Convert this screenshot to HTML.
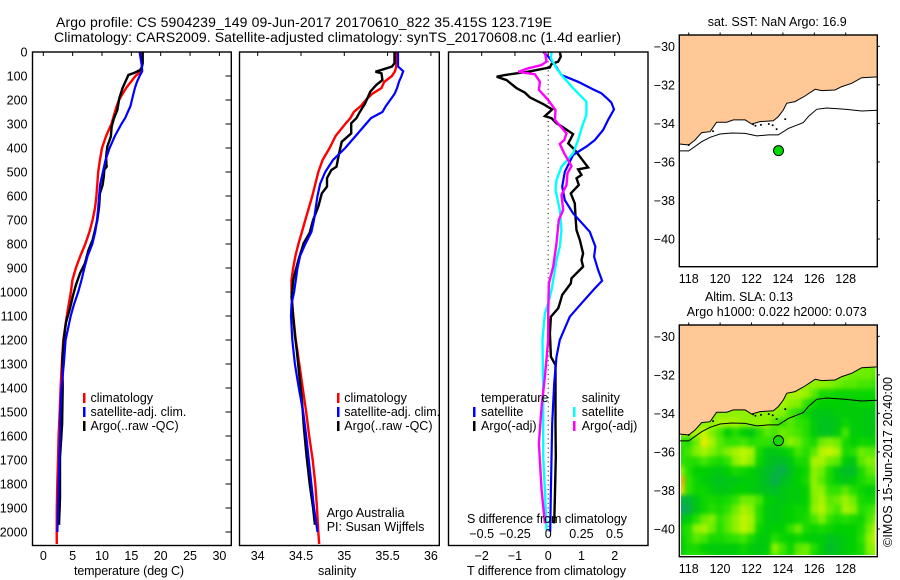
<!DOCTYPE html>
<html lang="en">
<head>
<meta charset="utf-8">
<title>Argo profile 5904239</title>
<style>
html,body{margin:0;padding:0;background:#fff;}
body{width:900px;height:580px;overflow:hidden;}
svg{display:block;}
text{font-family:"Liberation Sans",Arial,sans-serif;font-size:12.5px;fill:#000;}
.ttl{font-size:14px;}
</style>
</head>
<body>
<svg id="figure" xmlns="http://www.w3.org/2000/svg" width="900" height="580" viewBox="0 0 900 580">
  <rect x="0" y="0" width="900" height="580" fill="#fff"/>
  <text class="ttl" x="56" y="27" textLength="496">Argo profile: CS 5904239_149 09-Jun-2017 20170610_822 35.415S 123.719E</text>
  <text class="ttl" x="54" y="42" textLength="567">Climatology: CARS2009. Satellite-adjusted climatology: synTS_20170608.nc (1.4d earlier)</text>

  <g id="panel-t"></g>
  <g id="panel-s"></g>
  <g id="panel-d"></g>
  <g id="panel-m1"></g>
  <g id="panel-m2"></g>

  <g>
    <rect x="83" y="393" width="2.5" height="10" fill="#f00"/>
    <rect x="83" y="407" width="2.5" height="10" fill="#00f"/>
    <rect x="83" y="421" width="2.5" height="10" fill="#000"/>
    <text x="90.5" y="402">climatology</text>
    <text x="90.5" y="416">satellite-adj. clim.</text>
    <text x="90.5" y="430">Argo(..raw -QC)</text>
  </g>
  <g>
    <rect x="337" y="393" width="2.5" height="10" fill="#f00"/>
    <rect x="337" y="407" width="2.5" height="10" fill="#00f"/>
    <rect x="337" y="421" width="2.5" height="10" fill="#000"/>
    <text x="344.3" y="402">climatology</text>
    <text x="344.3" y="416">satellite-adj. clim.</text>
    <text x="344.3" y="430">Argo(..raw -QC)</text>
  </g>
  <text x="326.7" y="517">Argo Australia</text>
  <text x="326.7" y="531">PI: Susan Wijffels</text>

  <g>
    <text x="481" y="402">temperature</text>
    <rect x="473" y="407" width="2.5" height="10" fill="#00f"/>
    <rect x="473" y="421" width="2.5" height="10" fill="#000"/>
    <text x="481" y="416">satellite</text>
    <text x="481" y="430">Argo(-adj)</text>
    <text x="581.7" y="402">salinity</text>
    <rect x="573" y="407" width="2.5" height="10" fill="#0ff"/>
    <rect x="573" y="421" width="2.5" height="10" fill="#f0f"/>
    <text x="581.7" y="416">satellite</text>
    <text x="581.7" y="430">Argo(-adj)</text>
  </g>

  <text x="74" y="575" textLength="110">temperature (deg C)</text>
  <text x="318" y="575">salinity</text>
  <text x="467" y="523" textLength="160">S difference from climatology</text>
  <text x="467" y="575" textLength="159">T difference from climatology</text>

  <text x="707.7" y="26" textLength="139">sat. SST: NaN Argo: 16.9</text>
  <text x="705" y="301" textLength="88">Altim. SLA: 0.13</text>
  <text x="686.7" y="316" textLength="180">Argo h1000: 0.022 h2000: 0.073</text>
  <text transform="translate(892,547) rotate(-90)" x="0" y="0" textLength="170">©IMOS 15-Jun-2017 20:40:00</text>
</svg>

<script>
/* ---------- tick labels ---------- */
const depthTicks = [0,100,200,300,400,500,600,700,800,900,1000,1100,1200,1300,1400,1500,1600,1700,1800,1900,2000];
const tempTicks = [0,5,10,15,20,25,30];
const salTicks = [34,34.5,35,35.5,36];
const diffTTicks = [-2,-1,0,1,2];
const diffSTicks = [-0.5,-0.25,0,0.25,0.5];
const lonTicks = [118,120,122,124,126,128];
const latTicks = [-30,-32,-34,-36,-38,-40];

/* ---------- climatology depth levels (dbar) ---------- */
const climDepths = [0,60,80,100,125,150,175,200,225,250,275,300,350,400,450,500,550,600,650,700,750,800,850,900,950,1000,1050,1100,1200,1300,1400,1500,1600,1700,1800,1900,2000,2050];

/* ---------- temperature (deg C) ---------- */
const tempClim = [16.8,16.8,16.7,15.7,14.9,14.1,13.5,12.9,12.5,12.2,11.9,11.6,10.7,10.0,9.65,9.35,9.2,9.05,8.8,8.4,7.85,7.15,6.3,5.55,4.95,4.7,4.35,4.0,3.4,3.15,2.95,2.8,2.6,2.5,2.38,2.3,2.28,2.3];
const tempSat = [16.4,16.8,16.85,16.4,15.95,15.6,15.35,15.1,14.85,14.4,13.95,13.3,12.2,11.3,10.6,10.15,9.7,9.5,9.35,9.15,8.85,8.35,7.55,7.0,6.5,5.95,5.25,4.66,3.8,3.5,3.1,2.9,2.85,2.73,2.6,2.48,2.4];
const tempArgoDepths = [0,47,62,75,86,96,117,151,193,242,276,311,353,394,436,465,478,490,519,554,589,644,700,742,783,825,880,922,971,1019,1068,1128,1200,1280,1400,1550,1690,1860,1970];
const tempArgo = [16.93,16.93,16.8,16.5,15.6,14.5,14.1,13.5,12.95,12.6,12.05,11.65,11.5,10.9,10.7,10.75,10.8,10.4,10.3,10.1,9.65,9.5,9.2,8.8,8.4,7.7,7.1,6.25,5.55,5.0,4.55,3.85,3.5,3.25,3.3,3.2,2.85,2.85,2.67];

/* ---------- salinity ---------- */
const salClim = [35.6,35.6,35.585,35.55,35.46,35.43,35.32,35.25,35.19,35.11,35.07,35.01,34.9,34.83,34.75,34.7,34.665,34.63,34.59,34.55,34.51,34.47,34.435,34.41,34.39,34.39,34.4,34.41,34.44,34.48,34.52,34.56,34.595,34.635,34.665,34.685,34.7,34.71];
const salSat = [35.62,35.62,35.68,35.66,35.63,35.61,35.58,35.53,35.48,35.44,35.31,35.25,35.13,35.01,34.87,34.78,34.72,34.69,34.67,34.65,34.62,34.55,34.49,34.46,34.44,34.42,34.39,34.385,34.4,34.43,34.475,34.525,34.56,34.59,34.62,34.65,34.69];
const salArgoDepths = [0,47,61,72,82,89,117,137,165,214,249,276,297,339,374,422,478,492,526,561,589,644,700,753,797,867,950,1019,1100,1180,1240,1310,1450,1570,1685,1800,1900,1970];
const salArgo = [35.58,35.58,35.55,35.45,35.36,35.43,35.44,35.37,35.3,35.24,35.18,35.14,35.08,35.08,34.97,34.94,34.91,34.85,34.8,34.8,34.74,34.7,34.64,34.6,34.53,34.47,34.41,34.39,34.41,34.43,34.45,34.47,34.51,34.535,34.565,34.6,34.64,34.66];

/* ---------- differences from climatology ---------- */
const diffTSatDepths = [0,19,54,96,124,156,172,197,211,239,283,325,367,394,429,499,561,617,672,749,811,853,908,953,985,1047,1103,1200,1270,1381,1547,1825,1999];
const diffTSat = [-0.15,0,0.2,0.4,0.9,1.35,1.6,1.8,1.9,1.98,1.8,1.65,1.4,1.15,0.75,0.5,0.42,0.5,0.75,1.25,1.42,1.38,1.5,1.62,1.4,1.0,0.65,0.35,0.25,0.18,0.12,0.08,0.06];
const diffTArgoDepths = [0,19,40,50,64,82,96,103,117,151,169,189,217,239,267,276,297,314,342,381,408,481,489,512,526,554,589,631,686,742,783,839,867,894,943,964,1012,1047,1068,1103,1172,1270,1304,1547,1686,1853,1964];
const diffTArgo = [0.35,0.38,0.3,0.1,0.05,-0.6,-1.3,-1.55,-1.25,-0.95,-0.7,-0.55,-0.15,0.12,-0.1,0.1,0.25,0.45,0.75,0.6,0.8,1.2,0.9,1.0,0.85,0.92,0.68,0.8,0.82,0.85,0.95,1.05,1.0,1.05,0.7,0.68,0.42,0.35,0.3,0.08,0.05,0.08,0.22,0.22,0.23,0.2,0.18];
const diffSSatDepths = [0,26,68,96,151,207,262,311,367,422,478,533,575,658,742,811,867,950,992,1047,1089,1200,1408,1686,1825,1992];
const diffSSat = [0.025,0.02,0.0625,0.1,0.1875,0.2875,0.2875,0.255,0.225,0.1875,0.1,0.0625,0.055,0.0875,0.1,0.0875,0.0625,0.0375,0.025,0,-0.025,-0.0425,-0.0375,-0.0375,-0.025,-0.0125];
const diffSArgoDepths = [0,40,54,68,82,93,124,158,200,242,283,339,367,383,422,475,505,554,596,658,700,797,894,964,1089,1200,1353,1478,1631,1825,1964];
const diffSArgo = [-0.025,-0.0125,-0.05,-0.15,-0.225,-0.1,-0.0625,-0.07,0,0.055,0.05,0.1375,0.12,0.0875,0.12,0.175,0.145,0.1375,0.1,0.1125,0.08,0.0625,0.0375,0.005,0,0,-0.025,-0.05,-0.07,-0.05,-0.025];

/* ---------- map geography ---------- */
const coastLon = [117.41,118.0,118.4,118.83,119.36,119.78,120.42,120.85,121.59,122.01,122.54,123.39,123.71,124.03,124.24,124.77,125.41,126.05,126.47,127.32,127.75,128.38,129.02,130.02];
const coastLat = [-35.07,-35.12,-34.86,-34.48,-34.43,-33.94,-33.94,-33.82,-33.82,-34.03,-33.91,-33.86,-33.65,-33.3,-32.96,-32.87,-32.58,-32.23,-32.3,-32.27,-32.09,-31.92,-31.63,-31.59];
const isobathLon = [117.41,118.0,118.83,119.36,120.0,120.74,121.59,122.33,123.07,123.71,124.35,125.3,125.62,126.15,126.79,127.96,129.02,130.02];
const isobathLat = [-35.43,-35.43,-34.95,-34.72,-34.55,-34.5,-34.52,-34.65,-34.6,-34.6,-34.26,-33.96,-33.65,-33.27,-33.2,-33.27,-33.36,-33.32];
const isletLon = [118.0,119.55,122.1,122.25,122.6,123.1,123.35,123.6,124.15];
const isletLat = [-35.12,-34.4,-34.05,-34.12,-34.08,-34.03,-34.1,-34.3,-33.78];
const floatLon = 123.719;
const floatLat = -35.415;

/* ---------- sea level anomaly grid (m) ---------- */
const slaLons = [117.5,118,118.5,119,119.5,120,120.5,121,121.5,122,122.5,123,123.5,124,124.5,125,125.5,126,126.5,127,127.5,128,128.5,129,129.5,130];
const slaLats = [-31.5,-32,-32.5,-33,-33.5,-34,-34.5,-35,-35.5,-36,-36.5,-37,-37.5,-38,-38.5,-39,-39.5,-40,-40.5,-41,-41.5];
const slaRows = [
[.18,.18,.18,.18,.18,.18,.18,.18,.18,.18,.18,.18,.18,.18,.18,.18,.18,.18,.18,.18,.18,.18,.18,.18,.18,.18],
[.2,.2,.2,.2,.2,.2,.2,.2,.2,.2,.2,.2,.2,.2,.2,.2,.2,.2,.2,.2,.2,.19,.18,.18,.18,.17],
[.2,.2,.2,.2,.2,.2,.2,.2,.2,.2,.2,.2,.2,.2,.2,.2,.2,.2,.2,.19,.18,.17,.17,.16,.16,.15],
[.2,.2,.2,.2,.2,.2,.2,.2,.2,.2,.2,.2,.2,.2,.22,.22,.21,.17,.13,.13,.12,.12,.12,.12,.12,.12],
[.2,.2,.2,.2,.2,.2,.2,.2,.2,.2,.2,.2,.2,.22,.2,.19,.15,.12,.11,.11,.11,.1,.1,.11,.11,.11],
[.2,.2,.2,.2,.2,.2,.2,.2,.2,.2,.2,.2,.2,.19,.16,.14,.12,.09,.09,.09,.1,.1,.1,.1,.09,.09],
[.2,.2,.2,.2,.2,.22,.22,.22,.2,.2,.2,.2,.17,.15,.17,.15,.14,.1,.08,.08,.09,.12,.1,.1,.09,.09],
[.2,.2,.22,.24,.19,.16,.11,.14,.11,.09,.14,.17,.16,.18,.17,.16,.14,.1,.08,.08,.1,.16,.1,.1,.09,.1],
[.15,.14,.18,.27,.22,.17,.15,.15,.16,.14,.15,.15,.14,.17,.2,.18,.15,.13,.18,.19,.18,.13,.11,.12,.12,.11],
[.14,.16,.19,.22,.19,.17,.19,.22,.24,.22,.13,.09,.09,.1,.12,.16,.14,.17,.23,.25,.22,.13,.14,.18,.17,.17],
[.15,.14,.14,.16,.14,.13,.15,.2,.23,.2,.12,.09,.07,.07,.09,.13,.13,.22,.22,.18,.17,.1,.09,.17,.19,.19],
[.2,.14,.11,.11,.1,.09,.11,.13,.12,.11,.09,.07,.06,.05,.08,.11,.12,.2,.18,.13,.09,.07,.07,.13,.17,.18],
[.33,.15,.12,.1,.09,.08,.09,.09,.1,.1,.09,.07,.05,.07,.09,.11,.13,.2,.17,.13,.1,.09,.1,.13,.15,.15],
[.3,.15,.12,.12,.1,.09,.09,.11,.11,.1,.09,.08,.07,.09,.1,.1,.11,.2,.2,.15,.15,.17,.14,.12,.1,.11],
[.06,.06,.09,.12,.13,.12,.13,.15,.18,.18,.16,.11,.1,.09,.1,.1,.11,.19,.22,.17,.18,.21,.18,.13,.12,.13],
[.04,.05,.09,.12,.14,.13,.15,.18,.22,.2,.14,.1,.09,.1,.11,.12,.12,.2,.23,.18,.16,.22,.2,.14,.15,.17],
[.08,.1,.14,.18,.19,.15,.17,.2,.24,.22,.14,.1,.09,.1,.11,.12,.13,.16,.19,.15,.13,.14,.13,.12,.16,.2],
[.12,.14,.2,.22,.18,.14,.17,.2,.24,.21,.12,.1,.11,.11,.15,.18,.13,.12,.13,.12,.11,.11,.11,.13,.18,.25],
[.1,.14,.17,.16,.13,.13,.14,.15,.16,.13,.1,.1,.14,.12,.11,.12,.11,.1,.1,.08,.09,.1,.11,.14,.2,.25],
[.1,.13,.13,.11,.1,.1,.1,.1,.12,.1,.09,.1,.2,.16,.12,.17,.18,.14,.1,.07,.08,.1,.11,.13,.19,.22],
[.12,.14,.14,.14,.12,.1,.1,.11,.12,.11,.1,.12,.17,.15,.13,.18,.18,.13,.1,.08,.09,.11,.12,.13,.18,.2]
];
const floatSla = 0.13;

/* ---------- colour ramp for the anomaly field ---------- */
const rampLevels = [0.03,0.07,0.11,0.15,0.19,0.24,0.28,0.33];
const rampColours = [[16,160,112],[0,190,40],[0,208,0],[48,226,0],[130,240,0],[190,245,0],[240,235,0],[255,170,20]];
function slaColour(v){
  if(v<=rampLevels[0]) return 'rgb('+rampColours[0].join(',')+')';
  for(let i=1;i<rampLevels.length;i++){
    if(v<=rampLevels[i]){
      const f=(v-rampLevels[i-1])/(rampLevels[i]-rampLevels[i-1]);
      const a=rampColours[i-1], b=rampColours[i];
      return 'rgb('+[0,1,2].map(k=>Math.round(a[k]+(b[k]-a[k])*f)).join(',')+')';
    }
  }
  return 'rgb('+rampColours[rampColours.length-1].join(',')+')';
}

/* ---------- axis functions ---------- */
const yDepth = d => 52 + d*0.24;
const xTemp = v => 43.3 + v*5.87;
const xSal = v => 257.7 + (v-34)*86.6;
const xDiffT = v => 548.2 + v*33.25;
const xDiffS = v => xDiffT(v*4);
const lonX = lon => 688.7 + (lon-118)*15.7;
const latY1 = lat => 46.3 + (-30-lat)*19.27;
const latY2 = lat => 336.3 + (-30-lat)*19.27;

const NS = 'http://www.w3.org/2000/svg';
function make(tag, attrs, parent, txt){
  const el = document.createElementNS(NS, tag);
  for(const k in attrs) el.setAttribute(k, attrs[k]);
  if(txt !== undefined) el.textContent = txt;
  parent.appendChild(el);
  return el;
}
function tickSegment(x1,y1,x2,y2,parent){
  const el = make('line',{x1:x1,y1:y1,x2:x2,y2:y2,stroke:'#000','stroke-width':1},parent);
  
  
  return el;
}
function tickText(x,y,anchor,str,parent){
  const el = make('text',{x:x,y:y,'text-anchor':anchor},parent,str.replace('-','\u2212'));
  
  
  return el;
}
function profileLine(parent, depths, values, xFn, colour, width, name){
  const pts = values.map((v,i)=>xFn(v).toFixed(1)+','+yDepth(depths[i]).toFixed(1)).join(' ');
  const el = make('polyline',{points:pts,fill:'none',stroke:colour,'stroke-width':width,'stroke-linejoin':'miter','stroke-miterlimit':2},parent);
  
  
  return el;
}
function frame(parent,x,y,w,h){
  const el = make('rect',{x:x,y:y,width:w,height:h,fill:'none',stroke:'#000','stroke-width':1.4},parent);
  
  
  return el;
}

/* ---------- temperature panel ---------- */
const pT = document.getElementById('panel-t');
profileLine(pT, climDepths, tempClim, xTemp, '#f00', 2.4, 'temperature-climatology-line');
profileLine(pT, tempArgoDepths, tempArgo, xTemp, '#000', 2.4, 'temperature-argo-line');
profileLine(pT, climDepths, tempSat, xTemp, '#00f', 2.2, 'temperature-satellite-line');
frame(pT, 32.5, 52, 198.8, 493.5);
depthTicks.forEach(d=>{
  tickSegment(225.5, yDepth(d), 231.3, yDepth(d), pT);
  tickText(27.5, yDepth(d)+4.5, 'end', String(d), pT);
});
tempTicks.forEach(v=>{
  tickSegment(xTemp(v), 52, xTemp(v), 56, pT);
  tickText(xTemp(v), 560, 'middle', String(v), pT);
});

/* ---------- salinity panel ---------- */
const pS = document.getElementById('panel-s');
profileLine(pS, climDepths, salClim, xSal, '#f00', 2.4, 'salinity-climatology-line');
profileLine(pS, salArgoDepths, salArgo, xSal, '#000', 2.4, 'salinity-argo-line');
profileLine(pS, climDepths, salSat, xSal, '#00f', 2.2, 'salinity-satellite-line');
frame(pS, 239.5, 52, 199.8, 493.5);
salTicks.forEach(v=>{
  tickSegment(xSal(v), 52, xSal(v), 56, pS);
  tickText(xSal(v), 560, 'middle', String(v), pS);
});

/* ---------- difference panel ---------- */
const pD = document.getElementById('panel-d');
const zeroLine = make('line',{x1:xDiffT(0),y1:yDepth(0),x2:xDiffT(0),y2:yDepth(2000),stroke:'#000','stroke-width':1,'stroke-dasharray':'1 3.6'},pD);


profileLine(pD, diffTArgoDepths, diffTArgo, xDiffT, '#000', 2.4, 'temperature-difference-argo-line');
profileLine(pD, diffTSatDepths, diffTSat, xDiffT, '#00f', 2.2, 'temperature-difference-satellite-line');
profileLine(pD, diffSSatDepths, diffSSat, xDiffS, '#0ff', 2.4, 'salinity-difference-satellite-line');
profileLine(pD, diffSArgoDepths, diffSArgo, xDiffS, '#f0f', 2.4, 'salinity-difference-argo-line');
frame(pD, 448.5, 52, 199.5, 493.5);
diffTTicks.forEach(v=>{
  tickSegment(xDiffT(v), 52, xDiffT(v), 56, pD);
  tickText(xDiffT(v), 560, 'middle', String(v), pD);
});
diffSTicks.forEach(v=>{
  tickText(xDiffS(v), 538, 'middle', String(v), pD);
});

/* ---------- maps ---------- */
function landPath(latY, top){
  const pts = coastLon.map((lon,i)=>lonX(lon).toFixed(1)+','+latY(coastLat[i]).toFixed(1));
  pts.push('877.3,'+top);
  pts.push('679.3,'+top);
  return pts.join(' ');
}
function drawMapOverlay(parent, latY, top, bottom, markerFill){
  const land = make('polygon',{points:landPath(latY, top),fill:'#ffc896'},parent);
  
  
  const coast = make('polyline',{points:coastLon.map((lon,i)=>lonX(lon).toFixed(1)+','+latY(coastLat[i]).toFixed(1)).join(' '),fill:'none',stroke:'#000','stroke-width':1},parent);
  
  
  const iso = make('polyline',{points:isobathLon.map((lon,i)=>lonX(lon).toFixed(1)+','+latY(isobathLat[i]).toFixed(1)).join(' '),fill:'none',stroke:'#000','stroke-width':1},parent);
  
  
  isletLon.forEach((lon,i)=>{
    const d = make('circle',{cx:lonX(lon),cy:latY(isletLat[i]),r:1,fill:'#000'},parent);
    
    
  });
  const m = make('circle',{cx:lonX(floatLon),cy:latY(floatLat),r:5,fill:markerFill,stroke:'#000','stroke-width':1},parent);
  
  
  frame(parent, 679.3, top, 198, bottom-top);
  lonTicks.forEach(lon=>{
    tickSegment(lonX(lon), top-2.5, lonX(lon), top, parent);
    tickText(lonX(lon), bottom+16.3, 'middle', String(lon), parent);
  });
  latTicks.forEach(lat=>{
    tickSegment(877.3, latY(lat), 879.8, latY(lat), parent);
    tickText(675, latY(lat)+4.5, 'end', String(lat), parent);
  });
}

const pM1 = document.getElementById('panel-m1');
drawMapOverlay(pM1, latY1, 35, 266.7, '#00dc00');

const pM2 = document.getElementById('panel-m2');
const defs = make('defs',{},pM2);
const clip = make('clipPath',{id:'sla-clip'},defs);
make('rect',{x:681,y:325,width:194.5,height:230},clip);
const blur = make('filter',{id:'sla-blur',x:660,y:310,width:240,height:270,filterUnits:'userSpaceOnUse','color-interpolation-filters':'sRGB'},defs);
make('feGaussianBlur',{stdDeviation:2.2},blur);
const clipGroup = make('g',{'clip-path':'url(#sla-clip)'},pM2);
const field = make('g',{filter:'url(#sla-blur)'},clipGroup);


const cellW = lonX(0.5)-lonX(0);
const cellH = latY2(-0.5)-latY2(0);
slaRows.forEach((row,r)=>{
  row.forEach((v,c)=>{
    const cell = make('rect',{x:lonX(slaLons[c])-cellW/2-0.3,y:latY2(slaLats[r])-cellH/2-0.3,width:cellW+0.6,height:cellH+0.6,fill:slaColour(v)},field);
    
    
  });
});
drawMapOverlay(pM2, latY2, 325, 556.7, slaColour(floatSla));
</script>
</body>
</html>
